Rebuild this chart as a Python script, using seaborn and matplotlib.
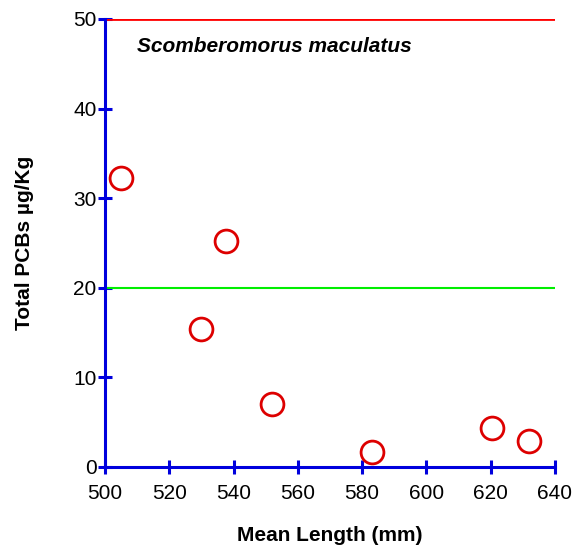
import matplotlib
matplotlib.use('Agg')
import matplotlib.pyplot as plt
import pandas as pd
import seaborn as sns

# mean length (mm) vs total PCBs (ug/Kg)
mean_length = [505, 530, 537.5, 552, 583, 620.5, 632]
total_pcbs = [32.3, 15.4, 25.2, 7.0, 1.7, 4.3, 2.9]
x_ticks = [500, 520, 540, 560, 580, 600, 620, 640]
y_ticks = [0, 10, 20, 30, 40, 50]
red_line = 50
green_line = 20

data = pd.DataFrame({'length': mean_length, 'pcbs': total_pcbs})

sns.set_style('white')
plt.rcParams['font.family'] = ['Liberation Sans', 'DejaVu Sans']
plt.rcParams['text.color'] = 'black'
plt.rcParams['axes.labelcolor'] = 'black'
plt.rcParams['xtick.labelcolor'] = 'black'
plt.rcParams['ytick.labelcolor'] = 'black'

fig = plt.figure(figsize=(5.85, 5.47), dpi=100)
ax = fig.add_axes([0.1795, 0.1463, 0.7692, 0.819])

ax.axhline(red_line, color='#ff0000', lw=2, zorder=1)
ax.axhline(green_line, color='#00ee00', lw=1.5, zorder=1)

sns.scatterplot(data=data, x='length', y='pcbs', ax=ax, s=270,
                facecolor='white', edgecolor='#dd0000', linewidth=2,
                zorder=3, legend=False)

ax.set_xlim(500, 640)
ax.set_ylim(0, 50)
ax.set_xticks(x_ticks)
ax.set_yticks(y_ticks)
for side in ['top', 'right']:
    ax.spines[side].set_visible(False)
for side in ['left', 'bottom']:
    ax.spines[side].set_color('#0000dd')
    ax.spines[side].set_linewidth(2.2)
ax.tick_params(bottom=True, left=True, direction='inout', length=10,
               width=2.2, color='#0000dd', labelsize=15)
ax.tick_params(axis='x', pad=7)
ax.tick_params(axis='y', pad=1)

ax.set_xlabel('Mean Length (mm)', fontsize=15, fontweight='bold', labelpad=17)
ax.set_ylabel('Total PCBs µg/Kg', fontsize=15, fontweight='bold', labelpad=28)
ax.text(0.071, 0.9375, 'Scomberomorus maculatus', transform=ax.transAxes,
        fontsize=15, fontweight='bold', style='italic', va='center')

fig.savefig('out.png', dpi=100)
